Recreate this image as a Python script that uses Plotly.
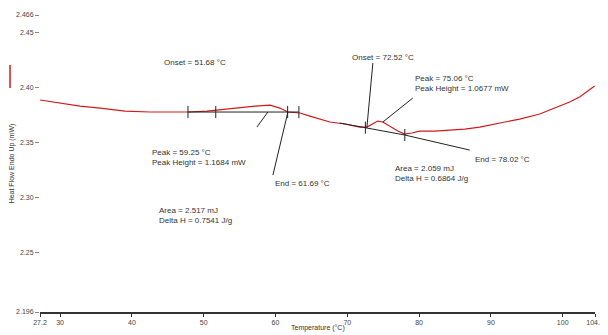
import plotly.graph_objects as go

# DSC curve (temperature in °C, heat flow in mW)
temperature = [27.22, 30.0, 32.78, 35.57, 39.05, 42.52, 47.81, 50.46, 52.96, 55.05,
               57.14, 59.22, 60.61, 61.73, 63.40, 64.79, 66.18, 67.57, 69.66, 71.75,
               72.72, 73.42, 74.25, 74.95, 75.92, 77.04, 78.01, 78.98, 80.10, 82.18,
               84.27, 86.36, 88.45, 91.23, 94.01, 96.80, 98.88, 100.97, 102.36, 103.75, 104.45]
heat_flow = [2.3882, 2.3855, 2.3827, 2.3809, 2.3782, 2.3773, 2.3773, 2.3782, 2.3800, 2.3818,
             2.3827, 2.3836, 2.3809, 2.3773, 2.3764, 2.3736, 2.3709, 2.3682, 2.3664, 2.3636,
             2.3636, 2.3664, 2.3691, 2.3682, 2.3645, 2.3600, 2.3573, 2.3582, 2.3600, 2.3600,
             2.3609, 2.3618, 2.3636, 2.3673, 2.3709, 2.3755, 2.3809, 2.3864, 2.3909, 2.3973, 2.4009]

x_ticks = [27.2, 30, 40, 50, 60, 70, 80, 90, 100, 104.5]
x_tick_labels = ["27.2", "30", "40", "50", "60", "70", "80", "90", "100", "104.5"]
y_ticks = [2.1955, 2.25, 2.30, 2.35, 2.40, 2.45, 2.4655]
y_tick_labels = ["2.196", "2.25", "2.30", "2.35", "2.40", "2.45", "2.466"]

# analysis events
baseline1 = [47.81, 63.26]
baseline1_y = 2.3773
limits1 = [47.81, 51.68, 61.69, 63.26]
baseline2 = [68.96, 78.01]
baseline2_y = [2.3673, 2.3564]
limits2 = [72.52, 78.01]

RED = "#d21a1a"
FONT = "Liberation Sans"

fig = go.Figure()
fig.add_trace(go.Scatter(x=temperature, y=heat_flow, mode="lines",
                         line=dict(color=RED, width=1.2), hoverinfo="skip"))

# baseline 1
fig.add_trace(go.Scatter(x=baseline1, y=[baseline1_y, baseline1_y], mode="lines",
                         line=dict(color="#222", width=1)))
# baseline 2 (tangent) + end leader
fig.add_trace(go.Scatter(x=baseline2 + [87.06], y=baseline2_y + [2.3427], mode="lines",
                         line=dict(color="#222", width=1)))

shapes = []
tick_h = 0.0055
for t in limits1:
    shapes.append(dict(type="line", x0=t, x1=t, y0=baseline1_y - tick_h, y1=baseline1_y + tick_h,
                       line=dict(color="#222", width=1)))
slope = (baseline2_y[1] - baseline2_y[0]) / (baseline2[1] - baseline2[0])
for t in limits2:
    yy = baseline2_y[0] + slope * (t - baseline2[0])
    shapes.append(dict(type="line", x0=t, x1=t, y0=yy - tick_h, y1=yy + tick_h,
                       line=dict(color="#222", width=1)))

# leader lines
leaders = [
    ((58.94, 2.3773), (57.41, 2.3636)),   # peak 1
    ((61.73, 2.3773), (59.64, 2.3200)),   # end 1
    ((72.72, 2.3627), (73.56, 2.4218)),   # onset 2
    ((74.95, 2.3682), (79.12, 2.3900)),   # peak 2
]
for (x0, y0), (x1, y1) in leaders:
    shapes.append(dict(type="line", x0=x0, y0=y0, x1=x1, y1=y1,
                       line=dict(color="#222", width=1)))

# small red mark at left edge
shapes.append(dict(type="line", xref="paper", yref="paper", x0=-0.054, x1=-0.054,
                   y0=0.754, y1=0.832, line=dict(color=RED, width=1.5)))

texts = [
    (44.19, 2.4227, "Onset = 51.68 °C"),
    (42.52, 2.3364, "Peak = 59.25 °C<br>Peak Height = 1.1684 mW"),
    (59.64, 2.3127, "End = 61.69 °C"),
    (43.50, 2.2830, "Area = 2.517 mJ<br>Delta H = 0.7541 J/g"),
    (70.40, 2.4270, "Onset = 72.52 °C"),
    (79.12, 2.4030, "Peak = 75.06 °C<br>Peak Height = 1.0677 mW"),
    (87.47, 2.3345, "End = 78.02 °C"),
    (76.34, 2.3215, "Area = 2.059 mJ<br>Delta H = 0.6864 J/g"),
]
annotations = []
for x, y, t in texts:
    annotations.append(dict(x=x, y=y, text=t, showarrow=False, xanchor="left", yanchor="middle",
                            align="left", font=dict(family=FONT, size=8, color="#333")))

annotations.append(dict(x=0.5, y=-0.055, xref="paper", yref="paper", text="Temperature (°C)",
                        showarrow=False, xanchor="center", yanchor="middle",
                        font=dict(family=FONT, size=7, color="#333")))

fig.update_layout(
    width=608, height=335,
    margin=dict(l=32, r=21, t=7, b=31),
    paper_bgcolor="white", plot_bgcolor="white",
    showlegend=False,
    shapes=shapes,
    annotations=annotations,
    xaxis=dict(range=[27.2, 104.5], tickmode="array", tickvals=x_ticks, ticktext=x_tick_labels,
               automargin=False,
               showgrid=False, zeroline=False, showline=True, linecolor="#333", linewidth=1.5,
               ticks="outside", ticklen=3, tickcolor="#333",
               tickfont=dict(family=FONT, size=7, color="#444")),
    yaxis=dict(range=[2.1955, 2.4655], tickmode="array", tickvals=y_ticks, ticktext=y_tick_labels,
               automargin=False,
               showgrid=False, zeroline=False, showline=False,
               ticks="outside", ticklen=4, tickcolor="#888",
               tickfont=dict(family=FONT, size=7, color="#444"),
               title=dict(text="Heat Flow Endo Up (mW)", standoff=2,
                          font=dict(family=FONT, size=7, color="#333"))),
)

fig.write_html("out.html")
